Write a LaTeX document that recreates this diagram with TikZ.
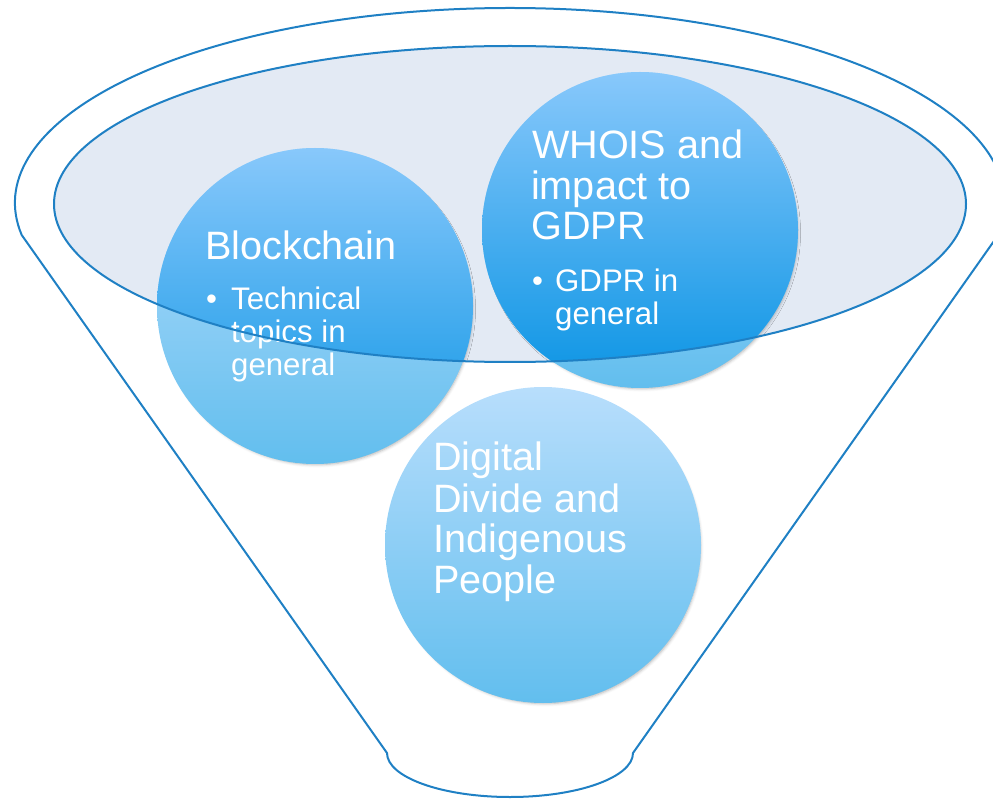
\documentclass[tikz,border=0pt]{standalone}
\usepackage{fontspec}
\setmainfont{Liberation Sans}
\usetikzlibrary{shadows.blur}
\definecolor{funnelblue}{HTML}{1F80C4}
\definecolor{ellfill}{HTML}{E3EAF4}
\definecolor{outtop}{HTML}{B8DEFC}
\definecolor{outmid}{HTML}{9CD2F7}
\definecolor{outbot}{HTML}{62BEEE}
\definecolor{intop}{HTML}{88C8FB}
\definecolor{inmid}{HTML}{55B2F3}
\definecolor{inbot}{HTML}{0A94E4}
\tikzset{
  outline/.style={draw=funnelblue, line width=2pt},
  bubble/.style={circle, minimum size=316pt, inner sep=0pt, draw=none,
    top color=outtop, middle color=outmid, bottom color=outbot,
    blur shadow={shadow xshift=2pt, shadow yshift=-3pt, shadow scale=0.985, shadow opacity=30, shadow blur radius=3pt}},
  innerpart/.style={top color=intop, middle color=inmid, bottom color=inbot, draw=none},
  title/.style={anchor=base west, text=white, inner sep=0pt, font=\fontsize{39.6}{41}\selectfont},
  bul/.style={anchor=base west, text=white, inner sep=0pt, font=\fontsize{31.2}{33}\selectfont},
}
\begin{document}
\begin{tikzpicture}[x=1pt,y=-1pt]
\useasboundingbox (0,0) rectangle (993,799);
% funnel outline
\draw[outline] (21.7,235) arc[start angle=170.55, end angle=369.45, x radius=495, y radius=195]
  -- (633,753) arc[start angle=0, end angle=180, x radius=123, y radius=44] -- cycle;
% inner ellipse fill
\fill[ellfill] (510,204) ellipse[x radius=456, y radius=158];
% bubbles
\node[bubble] (bc) at (315,306) {};
\node[bubble] (wh) at (640,230) {};
\node[bubble] (dd) at (543,545) {};
% darker parts inside the ellipse
\begin{scope}
  \clip (510,204) ellipse[x radius=456, y radius=158];
  \path[innerpart] (bc.center) circle[radius=158];
  \path[innerpart] (wh.center) circle[radius=158];
\end{scope}
% texts
\node[title] (bct) at (205,260) {Blockchain};
\node[bul] (bcb) at (206,310) {•};
\node[bul] (bc1) at (231,310) {Technical};
\node[bul] (bc2) at (231,343) {topics in};
\node[bul] (bc3) at (231,376) {general};
\node[title] (wt1) at (532,159) {WHOIS and};
\node[title] (wt2) at (531,200) {impact to};
\node[title] (wt3) at (531,240) {GDPR};
\node[bul] (whb) at (532,292) {•};
\node[bul] (wh1) at (555,292) {GDPR in};
\node[bul] (wh2) at (555,325) {general};
\node[title] (dt1) at (433,470) {Digital};
\node[title] (dt2) at (433,512) {Divide and};
\node[title] (dt3) at (433,552) {Indigenous};
\node[title] (dt4) at (433,593) {People};
% inner ellipse border on top
\draw[outline] (510,204) ellipse[x radius=456, y radius=158];
\end{tikzpicture}
\end{document}
